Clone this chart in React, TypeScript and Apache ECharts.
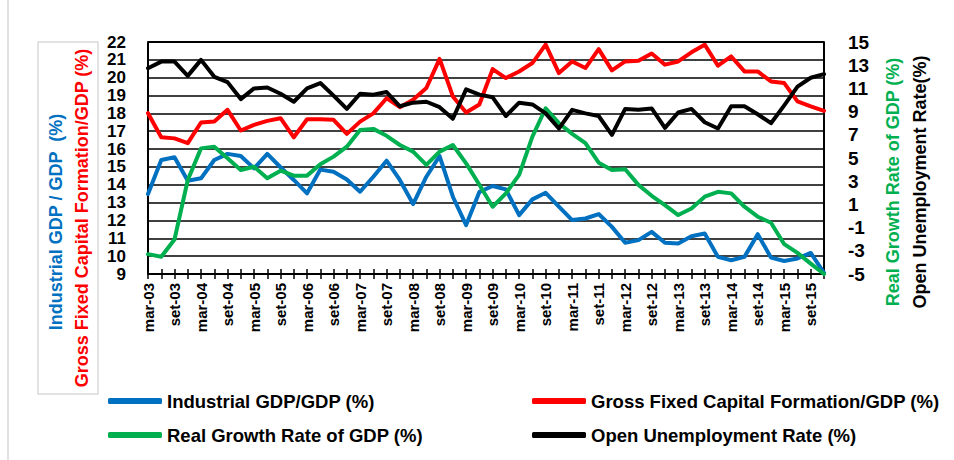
import React, { useEffect, useRef } from "react";
import * as echarts from "echarts";

const months = ["mar", "jun", "set", "dez"];
const years = ["03", "04", "05", "06", "07", "08", "09", "10", "11", "12", "13", "14", "15"];
const categories: string[] = years.flatMap((y) => months.map((m) => `${m}-${y}`));

const industrialGdp = [13.48, 15.39, 15.54, 14.23, 14.36, 15.39, 15.73, 15.61, 14.92, 15.73, 14.98, 14.27, 13.52, 14.85, 14.73, 14.3, 13.61, 14.45, 15.35, 14.27, 12.92, 14.45, 15.61, 13.33, 11.74, 13.6, 13.93, 13.74, 12.3, 13.18, 13.55, 12.77, 12.02, 12.11, 12.36, 11.64, 10.75, 10.9, 11.36, 10.75, 10.71, 11.12, 11.27, 9.96, 9.77, 9.96, 11.23, 9.92, 9.73, 9.87, 10.18, 9.06];
const grossFixedCapital = [18.01, 16.66, 16.6, 16.33, 17.49, 17.54, 18.2, 17.04, 17.36, 17.58, 17.73, 16.66, 17.67, 17.67, 17.64, 16.85, 17.54, 18.0, 18.85, 18.35, 18.76, 19.42, 21.05, 18.95, 18.05, 18.5, 20.48, 19.98, 20.35, 20.82, 21.85, 20.26, 20.91, 20.54, 21.6, 20.41, 20.91, 20.95, 21.36, 20.73, 20.91, 21.42, 21.85, 20.67, 21.19, 20.35, 20.35, 19.79, 19.7, 18.67, 18.39, 18.14];
const realGrowth = [-3.29, -3.52, -2.03, 3.1, 5.83, 5.98, 4.97, 3.97, 4.25, 3.25, 3.91, 3.48, 3.48, 4.46, 5.12, 5.98, 7.42, 7.51, 6.91, 6.12, 5.55, 4.4, 5.55, 6.12, 4.54, 2.69, 0.8, 1.95, 3.54, 6.85, 9.29, 8.0, 7.08, 6.28, 4.6, 3.97, 4.03, 2.68, 1.74, 0.94, 0.08, 0.65, 1.66, 2.09, 1.95, 0.8, -0.06, -0.58, -2.43, -3.18, -4.11, -5.0];
const unemployment = [12.74, 13.31, 13.31, 12.08, 13.46, 12.0, 11.54, 10.08, 11.0, 11.08, 10.54, 9.85, 11.0, 11.46, 10.38, 9.23, 10.54, 10.46, 10.69, 9.46, 9.77, 9.85, 9.38, 8.38, 10.92, 10.46, 10.23, 8.62, 9.77, 9.62, 8.85, 7.54, 9.15, 8.85, 8.62, 7.0, 9.23, 9.15, 9.27, 7.6, 8.92, 9.23, 8.08, 7.54, 9.46, 9.46, 8.77, 8.0, 9.54, 11.15, 11.92, 12.23];

const seriesNames = [
  "Industrial GDP/GDP (%)",
  "Gross Fixed Capital Formation/GDP (%)",
  "Real Growth Rate of GDP (%)",
  "Open Unemployment Rate (%)",
];
const colors = ["#0070C0", "#FF0000", "#00B050", "#000000"];

// right axis runs from -5 to 15; shifted by this offset so ticks start at a multiple of 2
const rightOffset = 5;

const FONT = "'Liberation Sans', Arial, sans-serif";

export default function App() {
  const ref = useRef<HTMLDivElement>(null);
  useEffect(() => {
    if (!ref.current) return;
    const chart = echarts.init(ref.current, undefined, { renderer: "svg" });
    const lineSeries = (i: number, data: number[], yAxisIndex: number) => ({
      name: seriesNames[i],
      type: "line",
      data,
      yAxisIndex,
      symbol: "none",
      lineStyle: { color: colors[i], width: 4, join: "round", cap: "round" },
      itemStyle: { color: colors[i] },
      z: 3,
    });
    const legendPos = [
      { left: 108, top: 391 },
      { left: 532, top: 391 },
      { left: 108, top: 425 },
      { left: 532, top: 425 },
    ];
    chart.setOption({
      animation: false,
      grid: { left: 148, right: 130, top: 42, bottom: 186, containLabel: false },
      legend: seriesNames.map((n, i) => ({
        data: [n],
        left: legendPos[i].left,
        top: legendPos[i].top,
        padding: 0,
        icon: "roundRect",
        itemWidth: 54,
        itemHeight: 6,
        itemGap: 5,
        selectedMode: false,
        textStyle: { fontFamily: FONT, fontWeight: "bold", fontSize: 18.5, color: "#000", lineHeight: 20 },
      })),
      xAxis: [
        {
          type: "category",
          data: categories,
          boundaryGap: false,
          axisLine: { lineStyle: { color: "#000", width: 2 } },
          axisTick: { show: true, interval: 0, length: 5, lineStyle: { color: "#000", width: 1.5 } },
          axisLabel: {
            interval: 1,
            rotate: 90,
            margin: 9,
            fontFamily: FONT,
            fontWeight: "bold",
            fontSize: 15,
            color: "#000",
          },
          splitLine: { show: false },
        },
        {
          type: "category",
          data: categories,
          boundaryGap: false,
          position: "bottom",
          axisLine: { show: false },
          axisTick: { show: true, inside: true, interval: 0, length: 5, lineStyle: { color: "#000", width: 1.5 } },
          axisLabel: { show: false },
          splitLine: { show: false },
        },
      ],
      yAxis: [
        {
          type: "value",
          min: 9,
          max: 22,
          interval: 1,
          position: "left",
          axisLine: { show: true, lineStyle: { color: "#000", width: 2 } },
          axisTick: { show: false },
          axisLabel: {
            margin: 22,
            fontFamily: FONT,
            fontWeight: "bold",
            fontSize: 17,
            color: "#000",
            showMinLabel: true,
            showMaxLabel: true,
          },
          splitLine: { show: true, lineStyle: { color: "#000", width: 1.5 } },
        },
        {
          type: "value",
          min: 0,
          max: 20,
          interval: 2,
          position: "right",
          axisLine: { show: true, lineStyle: { color: "#000", width: 2 } },
          axisTick: { show: false },
          axisLabel: {
            margin: 24,
            fontFamily: FONT,
            fontWeight: "bold",
            fontSize: 19,
            color: "#000",
            showMinLabel: true,
            showMaxLabel: true,
            formatter: (v: number) => String(v - rightOffset),
          },
          splitLine: { show: false },
        },
      ],
      series: [
        lineSeries(0, industrialGdp, 0),
        lineSeries(1, grossFixedCapital, 0),
        lineSeries(2, realGrowth.map((v) => v + rightOffset), 1),
        lineSeries(3, unemployment.map((v) => v + rightOffset), 1),
      ],
      graphic: [
        { type: "line", shape: { x1: 8, y1: 0, x2: 8, y2: 460 }, style: { stroke: "#d9d9d9", lineWidth: 1.5 } },
        { type: "line", shape: { x1: 148, y1: 42, x2: 824, y2: 42 }, style: { stroke: "#000", lineWidth: 2 }, z: 10 },
        { type: "rect", shape: { x: 38, y: 42, width: 60, height: 352 }, style: { fill: "none", stroke: "#d9d9d9", lineWidth: 1.5 } },
        {
          type: "text",
          x: 56,
          y: 222,
          rotation: Math.PI / 2,
          style: {
            text: "Industrial GDP / GDP  (%)",
            fill: "#0070C0",
            font: `bold 18px ${FONT}`,
            align: "center",
            verticalAlign: "middle",
          },
        },
        {
          type: "text",
          x: 82,
          y: 218,
          rotation: Math.PI / 2,
          style: {
            text: "Gross Fixed Capital Formation/GDP (%)",
            fill: "#FF0000",
            font: `bold 18px ${FONT}`,
            align: "center",
            verticalAlign: "middle",
          },
        },
        {
          type: "text",
          x: 893,
          y: 182,
          rotation: Math.PI / 2,
          style: {
            text: "Real Growth Rate of GDP (%)",
            fill: "#00B050",
            font: `bold 18px ${FONT}`,
            align: "center",
            verticalAlign: "middle",
          },
        },
        {
          type: "text",
          x: 920,
          y: 182,
          rotation: Math.PI / 2,
          style: {
            text: "Open Unemployment Rate(%)",
            fill: "#000000",
            font: `bold 18px ${FONT}`,
            align: "center",
            verticalAlign: "middle",
          },
        },
      ],
    });
    return () => chart.dispose();
  }, []);
  return (
    <div
      ref={ref}
      style={{ position: "fixed", left: 0, top: 0, width: 954, height: 460, background: "#fff" }}
    />
  );
}
